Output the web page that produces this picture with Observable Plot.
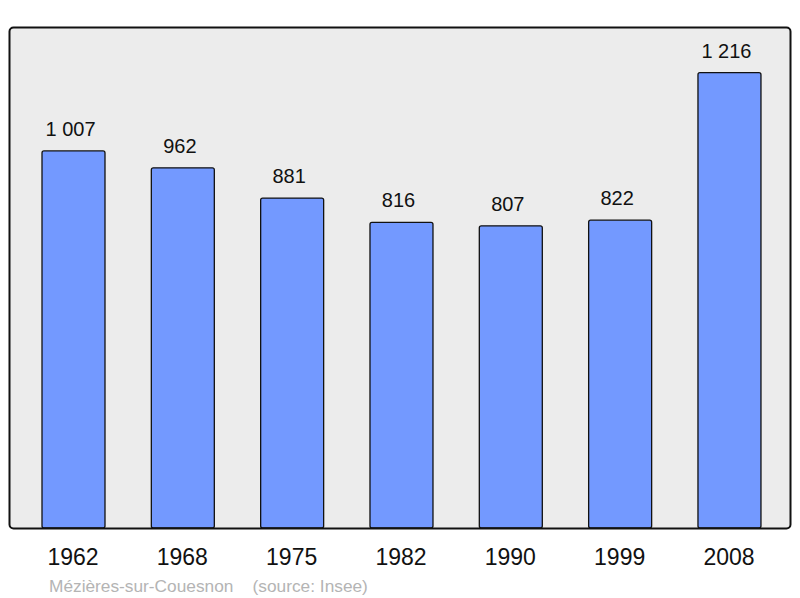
<!DOCTYPE html>
<html><head><meta charset="utf-8">
<script src="https://cdn.jsdelivr.net/npm/d3@7"></script>
<script src="https://cdn.jsdelivr.net/npm/@observablehq/plot@0.6"></script>
<style>
body{margin:0;background:#fff;font-family:"Liberation Sans",Arial,sans-serif;}
#caption{position:absolute;left:49px;top:576px;font-size:17.3px;color:#b4b4b4;white-space:pre;font-family:"Liberation Sans",Arial,sans-serif;}
</style>
</head><body>
<div id="chart"></div>
<div id="caption">Mézières-sur-Couesnon    (source: Insee)</div>
<script>
const years = ["1962","1968","1975","1982","1990","1999","2008"];
const population = [1007, 962, 881, 816, 807, 822, 1216];
const data = years.map((y,i)=>({year:y, value:population[i]}));
const fmt = v => d3.format(",")(v).replace(/,/g, " ");
const plot = Plot.plot({
  width: 800,
  height: 570,
  marginLeft: 9,
  marginRight: 10,
  marginTop: 27,
  marginBottom: 42,
  style: {fontFamily: "Liberation Sans, Arial, sans-serif", background: "transparent"},
  x: {domain: years, paddingInner: 0.4238, paddingOuter: 0.2837, align: 0.532, round: false, label: null},
  y: {domain: [0, 1338], axis: null},
  marks: [
    Plot.frame({fill: "#ececec", stroke: "none", rx: 4}),
    Plot.barY(data, {x: "year", y: "value", fill: "#7399ff", stroke: "#111", strokeWidth: 1.3, rx: 2}),
    Plot.text(data, {x: "year", y: "value", text: d => fmt(d.value), dy: -22, dx: -3.5, fontSize: 20, fill: "#111"}),
    Plot.frame({stroke: "#111", strokeWidth: 2, rx: 4}),
    Plot.axisX({tickSize: 0, tickPadding: 20, dx: -1, fontSize: 23, fill: "#111", label: null})
  ]
});
document.getElementById("chart").append(plot);
</script>
</body></html>
